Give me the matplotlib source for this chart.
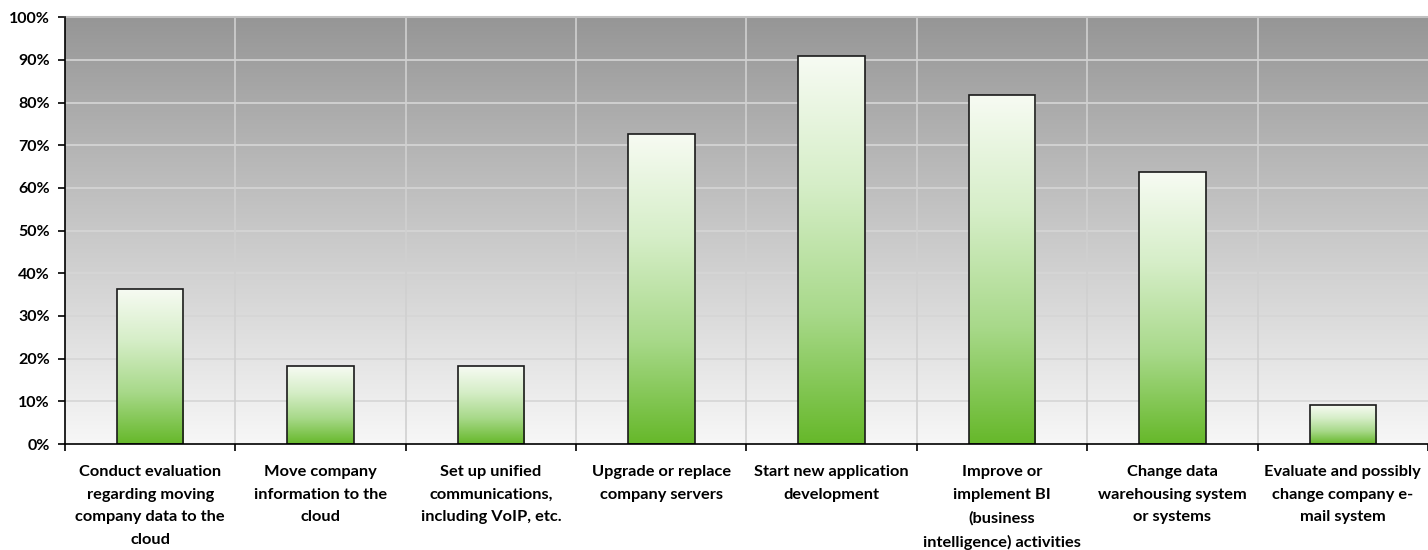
import numpy as np
import matplotlib
matplotlib.use("Agg")
import matplotlib.pyplot as plt
from matplotlib.colors import LinearSegmentedColormap
from matplotlib.ticker import PercentFormatter, MultipleLocator

# data
categories = [
    "Conduct evaluation\nregarding moving\ncompany data to the\ncloud",
    "Move company\ninformation to the\ncloud",
    "Set up unified\ncommunications,\nincluding VoIP, etc.",
    "Upgrade or replace\ncompany servers",
    "Start new application\ndevelopment",
    "Improve or\nimplement BI\n(business\nintelligence) activities",
    "Change data\nwarehousing system\nor systems",
    "Evaluate and possibly\nchange company e-\nmail system",
]
values = [36.36, 18.18, 18.18, 72.73, 90.91, 81.82, 63.64, 9.09]

plt.rcParams["font.family"] = ["Lato", "DejaVu Sans"]
plt.rcParams["font.weight"] = "bold"

fig = plt.figure(figsize=(14.28, 5.5), dpi=100)
ax = fig.add_axes([0.0455, 0.1927, 0.9545, 0.776])

n = len(categories)
x = np.arange(n)
ax.set_xlim(-0.5, n - 0.5)
ax.set_ylim(0, 100)

# plot-area gradient (dark gray at top, near white at bottom)
bg_cmap = LinearSegmentedColormap.from_list("bg", ["#f7f7f7", "#c8c8c8", "#969696"])
grad = np.linspace(0, 1, 256).reshape(-1, 1)
ax.imshow(grad, cmap=bg_cmap, aspect="auto", origin="lower",
          extent=[-0.5, n - 0.5, 0, 100], zorder=0)

# grid
for yv in range(10, 101, 10):
    ax.axhline(yv, color="#d6d6d6", lw=1.2, zorder=1)
for xv in np.arange(0.5, n - 0.5, 1):
    ax.axvline(xv, color="#d0d0d0", lw=1.2, zorder=1)

# bars with vertical white-to-green fill
bar_cmap = LinearSegmentedColormap.from_list("bar", ["#66b82a", "#a8d98a", "#d6eec8", "#f7fbf3"])
bars = ax.bar(x, values, width=0.39, facecolor="none", edgecolor="#1a1a1a", lw=1.2, zorder=3)
for b in bars:
    x0, y0 = b.get_x(), b.get_y()
    w, h = b.get_width(), b.get_height()
    im = ax.imshow(grad, cmap=bar_cmap, aspect="auto", origin="lower",
                   extent=[x0, x0 + w, y0, y0 + h], zorder=2)
    im.set_clip_path(b)

ax.set_xlim(-0.5, n - 0.5)
ax.set_ylim(0, 100)

ax.yaxis.set_major_locator(MultipleLocator(10))
ax.yaxis.set_major_formatter(PercentFormatter(decimals=0))
ax.set_xticks(np.arange(-0.5, n, 1))
ax.set_xticklabels([])
ax.set_xticks(x, minor=True)
ax.set_xticklabels(categories, minor=True, fontsize=11.8, fontweight="bold",
                   linespacing=1.8, va="top")
ax.tick_params(axis="x", which="minor", length=0, pad=15)
ax.tick_params(axis="x", which="major", length=5, width=1.2, direction="out")
ax.tick_params(axis="y", length=5, width=1.2, labelsize=11.5, pad=6)

for s in ["top", "right"]:
    ax.spines[s].set_visible(False)
ax.spines["left"].set_linewidth(1.2)
ax.spines["bottom"].set_linewidth(1.2)
ax.spines["left"].set_zorder(4)
ax.spines["bottom"].set_zorder(4)
ax.axhline(100, color="#c0c0c0", lw=1.5, zorder=4, clip_on=False)

fig.savefig("out.png", dpi=100)
